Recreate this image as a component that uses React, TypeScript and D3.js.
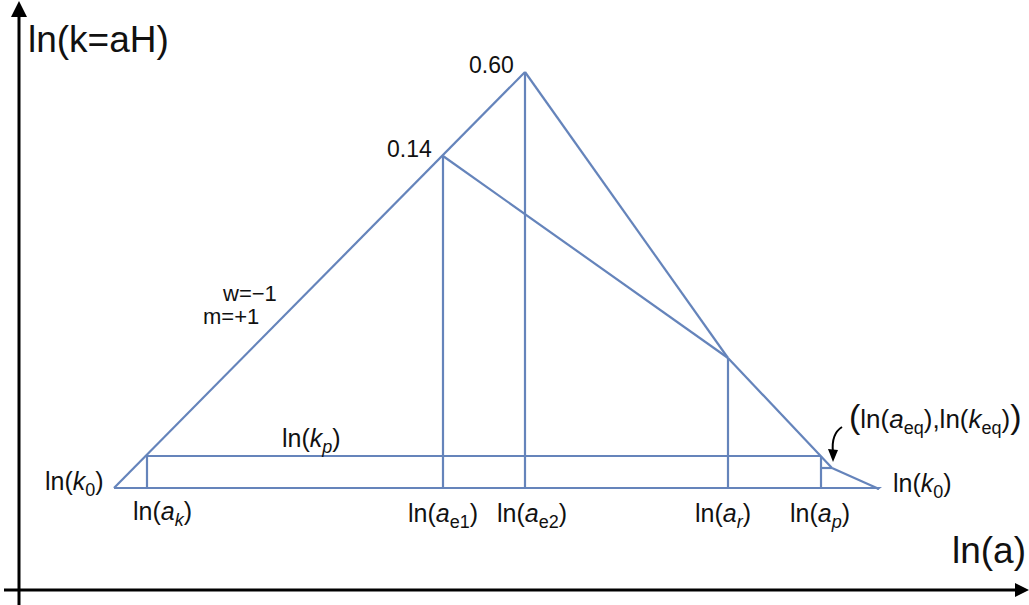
import React from "react";
import * as d3 from "d3";

// Arbitrary ln(a) / ln(k) units
const lnA = { k0: 0.95, k: 1.28, e1: 4.24, e2: 5.06, r: 7.09, p: 8.02, eq: 8.13, end: 8.6 };
const lnK = { k0: 1.02, p: 1.34, e1: 4.34, e2: 5.18, r: 2.32, eq: 1.22, end: 1.01 };

const peakLabels = [
  { text: "0.60", a: lnA.e2, k: lnK.e2 },
  { text: "0.14", a: lnA.e1, k: lnK.e1 },
];

type Part = { t: string; i?: boolean; sub?: boolean; big?: boolean };

const W = 1029;
const H = 605;
const x = d3.scaleLinear().domain([0, 10]).range([19, 1019]);
const y = d3.scaleLinear().domain([0, 6]).range([590, -10]);

const BLUE = "#6584bb";
const FONT = "'Liberation Sans', Arial, Helvetica, sans-serif";

const segments: [number, number, number, number][] = [
  [lnA.k0, lnK.k0, lnA.e2, lnK.e2],
  [lnA.e2, lnK.e2, lnA.r, lnK.r],
  [lnA.e1, lnK.e1, lnA.r, lnK.r],
  [lnA.r, lnK.r, lnA.eq, lnK.eq],
  [lnA.eq, lnK.eq, lnA.end, lnK.end],
  [lnA.k0, lnK.k0, lnA.end, lnK.k0],
  [lnA.k, lnK.p, lnA.p, lnK.p],
  [lnA.k, lnK.k0, lnA.k, lnK.p],
  [lnA.e1, lnK.k0, lnA.e1, lnK.e1],
  [lnA.e2, lnK.k0, lnA.e2, lnK.e2],
  [lnA.r, lnK.k0, lnA.r, lnK.r],
  [lnA.p, lnK.k0, lnA.p, lnK.p],
  [lnA.p, lnK.eq, lnA.eq, lnK.eq],
];

function Label({ parts, px, py, size = 25 }: { parts: Part[]; px: number; py: number; size?: number }) {
  let shift = 0;
  const subSize = Math.round(size * 0.7);
  return (
    <text x={px} y={py} fontFamily={FONT} fontSize={size} fill="#111">
      {parts.map((p, idx) => {
        let dy = 0;
        if (p.sub && shift === 0) { dy = 6; shift = 6; }
        else if (!p.sub && shift !== 0) { dy = -6; shift = 0; }
        return (
          <tspan
            key={idx}
            dy={dy}
            fontStyle={p.i ? "italic" : "normal"}
            fontSize={p.sub ? subSize : p.big ? 34 : size}
          >
            {p.t}
          </tspan>
        );
      })}
    </text>
  );
}

export default function App() {
  const line = d3.line<[number, number]>().x((d) => x(d[0])).y((d) => y(d[1]));
  const endX = x(lnA.end);
  const endY = y(lnK.k0);
  return (
    <svg width={W} height={H} style={{ position: "fixed", left: 0, top: 0, background: "#fff" }}>
      {/* axes */}
      <line x1={19} y1={14} x2={19} y2={605} stroke="#000" strokeWidth={3} />
      <path d="M19,1 L11,17 L27,17 Z" fill="#000" />
      <line x1={4} y1={590} x2={1016} y2={590} stroke="#000" strokeWidth={3} />
      <path d="M1029,590 L1015,583 L1015,597 Z" fill="#000" />

      {segments.map((s, i) => (
        <path key={i} d={line([[s[0], s[1]], [s[2], s[3]]]) || ""} stroke={BLUE} strokeWidth={2.2} fill="none" />
      ))}
      <path d={`M${endX - 6},${endY - 1} L${endX + 3},${endY - 1} L${endX - 1},${endY + 2} Z`} fill={BLUE} />

      {/* arrow to equality point */}
      <path d="M842,427 Q831,434 833,452" stroke="#000" strokeWidth={2} fill="none" />
      <path d="M828,449 L838,450 L833,462 Z" fill="#000" />

      <Label parts={[{ t: "ln(k=aH)" }]} px={28} py={52} size={37} />
      <Label parts={[{ t: "ln(a)" }]} px={952} py={563} size={37} />

      {peakLabels.map((p) => (
        <text key={p.text} x={x(p.a) - 56} y={y(p.k) + 1} fontFamily={FONT} fontSize={23} fill="#111">
          {p.text}
        </text>
      ))}
      <Label parts={[{ t: "w=\u22121" }]} px={223} py={301} size={22} />
      <Label parts={[{ t: "m=+1" }]} px={203} py={324} size={22} />

      <Label parts={[{ t: "ln(" }, { t: "k", i: true }, { t: "p", i: true, sub: true }, { t: ")" }]} px={282} py={447} />
      <Label parts={[{ t: "ln(" }, { t: "k", i: true }, { t: "0", sub: true }, { t: ")" }]} px={45} py={490} />
      <Label parts={[{ t: "ln(" }, { t: "k", i: true }, { t: "0", sub: true }, { t: ")" }]} px={893} py={492} />
      <Label parts={[{ t: "ln(" }, { t: "a", i: true }, { t: "k", i: true, sub: true }, { t: ")" }]} px={133} py={520} />
      <Label parts={[{ t: "ln(" }, { t: "a", i: true }, { t: "e1", sub: true }, { t: ")" }]} px={408} py={522} />
      <Label parts={[{ t: "ln(" }, { t: "a", i: true }, { t: "e2", sub: true }, { t: ")" }]} px={497} py={522} />
      <Label parts={[{ t: "ln(" }, { t: "a", i: true }, { t: "r", i: true, sub: true }, { t: ")" }]} px={695} py={522} />
      <Label parts={[{ t: "ln(" }, { t: "a", i: true }, { t: "p", i: true, sub: true }, { t: ")" }]} px={790} py={522} />
      <Label
        parts={[
          { t: "(", big: true },
          { t: "ln(" },
          { t: "a", i: true },
          { t: "eq", sub: true },
          { t: "),ln(" },
          { t: "k", i: true },
          { t: "eq", sub: true },
          { t: ")" },
          { t: ")", big: true },
        ]}
        px={849}
        py={428}
        size={26}
      />
    </svg>
  );
}
